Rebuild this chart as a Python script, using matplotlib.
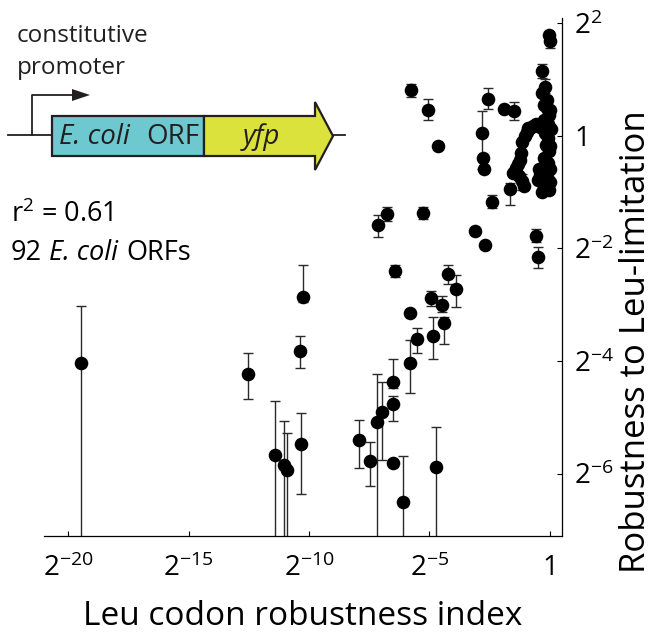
import numpy as np
import matplotlib
matplotlib.use('Agg')
import matplotlib.pyplot as plt
from matplotlib.patches import Rectangle, Polygon

plt.rcParams['font.family'] = ['Open Sans', 'DejaVu Sans']
plt.rcParams['mathtext.fontset'] = 'custom'
plt.rcParams['mathtext.rm'] = 'Open Sans'
plt.rcParams['mathtext.it'] = 'Open Sans:italic'

# Data as log2 exponents
# lx: log2 Leu codon robustness index, ly: log2 robustness to Leu-limitation
# lo / hi: log2 of lower / upper end of the error bar
lx = [-19.46, -12.53, -11.41, -11.04, -10.91, -10.33, -10.37, -10.25,
      -7.93, -7.47, -7.18, -6.97, -6.51, -6.51, -6.51, -6.10, -4.73,
      -5.81, -5.52, -5.81, -4.85, -4.94, -4.48, -4.40, -3.90,
      -7.14, -6.76, -5.27, -6.43, -4.23,
      -3.11, -2.70, -2.41, -1.66, -0.58, -0.50,
      -5.77, -5.06, -4.65,
      -2.57, -1.91, -1.49, -2.82, -2.78, -2.74,
      -0.04, 0.00, -0.33, -0.21, -0.33, -0.25, -0.12, -0.04,
      -0.71, -0.95, -1.16, -1.20, -1.33, -1.54, -1.16,
      -0.41, -0.21, -0.08, -0.04, -0.08, -0.21, -0.41, 0.00, -0.33, -0.12,
      -0.58, -0.83, -1.04, -0.25, -0.17, 0.00, -0.25, -0.17, -0.50, -0.04,
      -0.25, -1.41, -1.29, -1.08, -0.08, 0.04, 0.00, -0.46, -0.12, 0.00,
      -1.24, -0.91]
ly = [-4.04, -4.23, -5.67, -5.85, -5.94, -5.48, -3.82, -2.86,
      -5.40, -5.78, -5.08, -4.91, -4.76, -4.37, -5.81, -6.51, -5.88,
      -4.04, -3.61, -3.15, -3.56, -2.88, -3.00, -3.32, -2.72,
      -1.58, -1.39, -1.37, -2.40, -2.45,
      -1.69, -1.94, -1.17, -0.94, -1.78, -2.15,
      0.82, 0.46, -0.18,
      0.66, 0.48, 0.44, 0.04, -0.39, -0.60,
      1.78, 1.69, 1.14, 0.87, 0.76, 0.55, 0.50, 0.37,
      0.18, 0.07, -0.12, -0.30, -0.50, -0.66, -0.80,
      0.16, 0.05, -0.04, -0.28, -0.48, -0.66, -0.69, -0.82, -1.00, -0.73,
      0.21, 0.14, 0.00, 0.28, -0.16, -0.18, -0.39, -0.57, -0.78, -0.96,
      -0.89, -0.57, -0.71, -0.89, 0.21, 0.11, -0.60, -0.60, 0.64, 0.46,
      -0.43, 0.14]
lo = [-8.00, -4.68, -8.00, -8.00, -8.00, -6.36, -4.12, -2.95,
      -5.90, -6.22, -8.00, -5.76, -5.07, -4.48, -5.81, -8.00, -8.00,
      -4.57, -3.86, -3.15, -3.96, -3.02, -3.13, -3.70, -3.04,
      -1.80, -1.51, -1.48, -2.51, -2.63,
      -1.69, -1.94, -1.28, -1.24, -1.88, -2.35,
      0.68, 0.27, -0.18,
      0.48, 0.48, 0.27, -0.59, -0.39, -0.60,
      1.72, 1.55, 1.02, 0.76, 0.76, 0.55, 0.40, 0.37,
      0.18, 0.07, -0.12, -0.30, -0.50, -0.66, -0.96,
      0.16, 0.05, -0.04, -0.28, -0.48, -0.66, -0.78, -0.82, -1.00, -0.73,
      0.21, 0.14, 0.00, 0.28, -0.16, -0.18, -0.39, -0.57, -0.78, -0.96,
      -0.89, -0.57, -0.71, -0.89, 0.21, 0.11, -0.60, -0.60, 0.64, 0.46,
      -0.43, 0.14]
hi = [-3.02, -3.86, -4.71, -5.07, -5.28, -4.92, -3.56, -2.29,
      -5.05, -5.44, -4.23, -4.37, -4.62, -3.97, -5.81, -5.69, -5.17,
      -3.63, -3.41, -3.15, -3.22, -2.76, -2.84, -3.22, -2.47,
      -1.40, -1.26, -1.26, -2.29, -2.29,
      -1.69, -1.94, -1.05, -0.84, -1.65, -1.97,
      0.92, 0.66, -0.18,
      0.84, 0.48, 0.60, 0.44, -0.39, -0.60,
      1.84, 1.69, 1.28, 1.00, 0.76, 0.55, 0.64, 0.37,
      0.18, 0.07, -0.12, -0.30, -0.50, -0.66, -0.68,
      0.16, 0.05, -0.04, -0.28, -0.48, -0.66, -0.60, -0.82, -1.00, -0.73,
      0.21, 0.14, 0.00, 0.28, -0.16, -0.18, -0.39, -0.57, -0.78, -0.96,
      -0.89, -0.57, -0.71, -0.89, 0.21, 0.11, -0.60, -0.60, 0.64, 0.46,
      -0.43, 0.14]

xticks_exp = [-20, -15, -10, -5, 0]
yticks_exp = [-6, -4, -2, 0, 2]

x = np.power(2.0, lx)
y = np.power(2.0, ly)
ylo = np.power(2.0, lo)
yhi = np.power(2.0, hi)

fig = plt.figure(figsize=(6.58, 6.33), dpi=100)
ax = fig.add_axes([44 / 658, 97 / 633, 518 / 658, 518 / 633])

ax.errorbar(x, y, yerr=[y - ylo, yhi - y], fmt='none', ecolor='#2a2a2a',
            elinewidth=1.0, capsize=3.5, capthick=1.0, zorder=2)
ax.plot(x, y, 'o', color='black', markersize=9.8, markeredgewidth=0, zorder=3)

ax.set_xscale('log', base=2)
ax.set_yscale('log', base=2)
ax.set_xlim(2.0 ** -21, 2.0 ** 0.5)
ax.set_ylim(2.0 ** -7.11, 2.0 ** 2.09)

def lab(e):
    return '1' if e == 0 else '$2^{%d}$' % e

ax.set_xticks([2.0 ** e for e in xticks_exp])
ax.set_xticklabels([lab(e) for e in xticks_exp])
ax.set_yticks([2.0 ** e for e in yticks_exp])
ax.set_yticklabels([lab(e) for e in yticks_exp])
ax.minorticks_off()

ax.spines['left'].set_visible(False)
ax.spines['top'].set_visible(False)
ax.spines['bottom'].set_linewidth(0.9)
ax.spines['right'].set_linewidth(0.9)
ax.yaxis.tick_right()
ax.yaxis.set_label_position('right')
ax.tick_params(direction='in', length=3.5, width=0.8, labelsize=20, colors='black')
ax.tick_params(axis='x', pad=13)
ax.tick_params(axis='y', pad=9)

ax.set_xlabel('Leu codon robustness index', fontsize=24)
ax.set_ylabel('Robustness to Leu-limitation', fontsize=25)
ax.xaxis.set_label_coords(0.5, -0.123)
ax.yaxis.set_label_coords(1.11, 0.375)

# construct diagram, drawn in figure pixel coordinates
ov = fig.add_axes([0, 0, 1, 1], zorder=5)
ov.set_xlim(0, 658)
ov.set_ylim(633, 0)
ov.axis('off')
ov.patch.set_alpha(0)

dark = '#231f20'
ov.plot([8, 52], [135, 135], color=dark, lw=1.3)
ov.plot([333, 345], [135, 135], color=dark, lw=1.3)
ov.plot([32, 32, 74], [135, 95, 95], color=dark, lw=1.3)
ov.add_patch(Polygon([[72, 89], [90, 95], [72, 101]], closed=True, color=dark, lw=0))
ov.add_patch(Rectangle((52, 116), 152, 40, facecolor='#6dc8d0', edgecolor=dark, lw=1.6))
ov.add_patch(Polygon([[204, 116], [315, 116], [315, 102], [333, 136], [315, 170],
                      [315, 156], [204, 156]], closed=True,
                     facecolor='#dce23c', edgecolor=dark, lw=1.6))
ov.text(130, 137, 'E. coli', style='italic', fontsize=20, ha='right', va='center', color=dark)
ov.text(146, 137, 'ORF', fontsize=20, ha='left', va='center', color=dark)
ov.text(261, 137, 'yfp', style='italic', fontsize=20, ha='center', va='center', color=dark)
ov.text(17, 42, 'constitutive', fontsize=17.5, ha='left', va='baseline', color=dark)
ov.text(17, 74, 'promoter', fontsize=17.5, ha='left', va='baseline', color=dark)

ov.text(11, 222, 'r$^2$ = 0.61', fontsize=19.5, ha='left', va='baseline', color='black')
ov.text(11, 260, '92', fontsize=19.5, ha='left', va='baseline', color='black')
ov.text(49, 260, 'E. coli', style='italic', fontsize=19.5, ha='left', va='baseline', color='black')
ov.text(126, 260, 'ORFs', fontsize=19.5, ha='left', va='baseline', color='black')

fig.savefig('out.png', dpi=100)
